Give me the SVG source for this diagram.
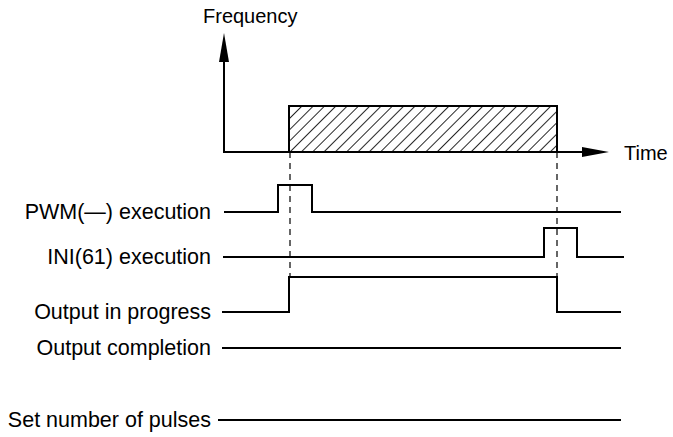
<svg xmlns="http://www.w3.org/2000/svg" width="673" height="437" viewBox="0 0 673 437">
<style>
text{font-family:"Liberation Sans",Arial,sans-serif;font-size:21.5px;fill:#000}
.l{text-anchor:end}
.s{fill:none;stroke:#000;stroke-width:2}
.d{fill:none;stroke:#000;stroke-width:1.2;stroke-dasharray:6,5}
</style>
<defs>
<pattern id="h" patternUnits="userSpaceOnUse" width="8" height="8" patternTransform="rotate(45)">
<line x1="0" y1="0" x2="0" y2="8" stroke="#000" stroke-width="1.7"/>
</pattern>
</defs>
<rect width="673" height="437" fill="#fff"/>
<g id="axes">
<rect x="289" y="106" width="268" height="46" fill="url(#h)" stroke="#000" stroke-width="2"/>
<polyline class="s" points="224,60 224,152 585,152"/>
<polygon points="224,33 219,62 229,62"/>
<polygon points="609,152 582,147 582,157"/>
<text x="203" y="23" style="font-size:20px">Frequency</text>
<text x="624" y="160" style="font-size:20px">Time</text>
</g>
<g id="connectors">
<line class="d" x1="290" y1="152" x2="290" y2="278"/>
<line class="d" x1="557" y1="152" x2="557" y2="278"/>
</g>
<g id="pwm"><text class="l" x="211" y="219">PWM(—) execution</text><polyline class="s" points="224,212 278,212 278,185 312,185 312,212 621,212"/></g>
<g id="ini"><text class="l" x="211" y="264">INI(61) execution</text><polyline class="s" points="223,257 544,257 544,228 577,228 577,257 624,257"/></g>
<g id="output"><text class="l" x="211" y="319">Output in progress</text><polyline class="s" points="222,312 289,312 289,277 557,277 557,312 621,312"/></g>
<g id="completion"><text class="l" x="211" y="355">Output completion</text><line class="s" x1="222" y1="348" x2="621" y2="348"/></g>
<g id="pulses"><text class="l" x="211" y="427">Set number of pulses</text><line class="s" x1="218" y1="420" x2="621" y2="420"/></g>
</svg>
